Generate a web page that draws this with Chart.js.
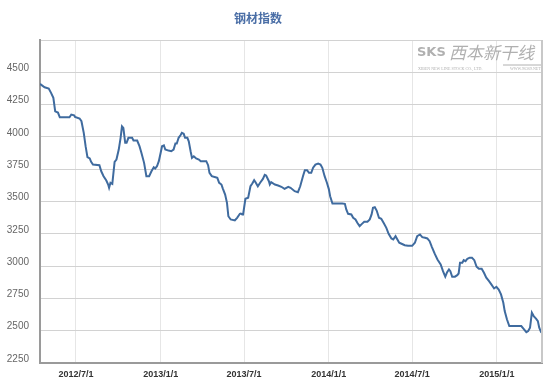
<!DOCTYPE html>
<html>
<head>
<meta charset="utf-8">
<script src="https://cdn.jsdelivr.net/npm/chart.js@4.4.1/dist/chart.umd.min.js"></script>
<style>
  html, body { margin: 0; padding: 0; background: #ffffff; }
  #wrap { position: relative; width: 558px; height: 389px; }
  #title { position: absolute; left: 0; width: 516px; top: 9px; text-align: center;
           font: bold 12px "Noto Sans CJK SC", sans-serif; color: #4a6ea6; }
  canvas { position: absolute; left: 0; top: 0; }
</style>
</head>
<body>
<div id="wrap">
  <canvas id="c" width="558" height="389"></canvas>
  <div id="title">钢材指数</div>
</div>
<script>
// x values: days since 2012/7/1
const dayOffsets = [
  -78,-68,-59,-54,-49,-45,-39,-35,-14,-10,-4,-2,8,12,17,21,25,30,33,37,
  51,55,60,66,70,72,75,79,84,88,93,97,100,103,107,110,114,122,125,133,
  138,142,148,153,159,164,169,172,176,180,184,187,191,194,201,207,212,216,219,223,
  227,230,234,237,242,245,249,252,256,261,267,271,276,283,287,290,295,303,307,311,
  316,319,324,328,331,336,345,350,356,358,361,363,368,374,379,383,387,390,395,400,
  406,410,413,419,421,424,432,439,446,453,461,466,475,482,487,493,497,502,506,511,
  515,520,526,531,535,540,545,549,552,557,578,584,587,591,598,602,607,611,616,621,
  626,633,638,642,645,649,653,658,663,668,674,679,685,689,694,698,702,707,714,721,
  730,736,741,747,752,758,763,768,773,779,785,792,797,802,806,810,813,817,823,828,
  831,834,839,842,846,850,855,860,865,870,875,881,886,891,897,902,908,913,918,923,
  928,931,936,941,957,967,973,978,982,986,990,994,999,1003,1006,1010,1012
];
const steelIndex = [
  4410,4384,4374,4341,4302,4198,4188,4152,4152,4173,4167,4155,4142,4121,4031,3928,3843,3833,3807,3786,
  3781,3734,3696,3662,3631,3606,3645,3637,3807,3825,3902,3993,4082,4070,3954,3954,3993,3993,3972,3972,
  3928,3880,3799,3696,3696,3734,3765,3755,3773,3812,3877,3928,3935,3902,3894,3889,3902,3949,3949,3993,
  4013,4031,4024,3993,3993,3966,3889,3838,3850,3833,3825,3812,3812,3812,3781,3722,3696,3688,3683,3645,
  3631,3600,3554,3490,3386,3361,3353,3374,3405,3407,3400,3400,3521,3529,3618,3639,3665,3649,3618,3645,
  3675,3706,3701,3657,3631,3649,3631,3624,3614,3598,3614,3606,3580,3572,3618,3696,3742,3742,3722,3722,
  3761,3786,3794,3786,3761,3696,3645,3598,3541,3484,3484,3482,3438,3405,3400,3374,3361,3335,3309,3327,
  3343,3343,3361,3400,3451,3456,3430,3374,3366,3335,3296,3250,3214,3206,3232,3206,3181,3173,3162,3157,
  3157,3181,3232,3245,3224,3219,3214,3193,3147,3096,3051,3013,2961,2918,2953,2974,2961,2918,2918,2930,
  2943,3026,3026,3046,3038,3057,3065,3065,3046,2995,2979,2979,2948,2910,2883,2858,2827,2840,2819,2781,
  2716,2652,2587,2536,2536,2536,2510,2489,2497,2523,2639,2613,2593,2574,2523,2489,2484
];
const xTickDays   = [0, 184, 365, 549, 730, 914];
const xTickLabels = ['2012/7/1', '2013/1/1', '2013/7/1', '2014/1/1', '2014/7/1', '2015/1/1'];
const yMin = 2250, yMax = 4750, yStep = 250;

const points = dayOffsets.map((d, i) => ({ x: d, y: steelIndex[i] }));

const decor = {
  id: 'decor',
  beforeDatasetsDraw(chart) {
    const ctx = chart.ctx, a = chart.chartArea;
    ctx.save();
    // watermark
    ctx.fillStyle = 'rgba(150,150,150,0.75)';
    ctx.font = 'bold 13px "DejaVu Sans", sans-serif';
    ctx.textBaseline = 'middle';
    ctx.textAlign = 'left';
    ctx.fillText('SKS', 417, 53);
    ctx.font = 'italic 17px "Noto Sans CJK SC", sans-serif';
    ctx.fillText('西本新干线', 449, 53);
    ctx.font = '4px "Liberation Serif", serif';
    ctx.fillText('XIBEN NEW LINE STOCK CO., LTD.', 418, 69);
    ctx.fillText('WWW.96369.NET', 510, 69);
    ctx.strokeStyle = 'rgba(150,150,150,0.75)';
    ctx.lineWidth = 1;
    ctx.beginPath(); ctx.moveTo(503, 65); ctx.lineTo(541, 65); ctx.stroke();
    ctx.restore();
  },
  afterDraw(chart) {
    const ctx = chart.ctx, a = chart.chartArea;
    ctx.save();
    ctx.strokeStyle = '#c8c8c8';
    ctx.lineWidth = 2;
    ctx.beginPath();
    ctx.moveTo(a.right, a.top); ctx.lineTo(a.right, a.bottom);
    ctx.stroke();
    ctx.restore();
  }
};

new Chart(document.getElementById('c'), {
  type: 'line',
  data: {
    datasets: [{
      data: points,
      borderColor: '#3f6b9f',
      borderWidth: 2,
      pointRadius: 0,
      tension: 0,
      fill: false
    }]
  },
  options: {
    responsive: false,
    animation: false,
    layout: { padding: { left: 0, top: 40, right: 16, bottom: 0 } },
    plugins: { legend: { display: false }, title: { display: false }, tooltip: { enabled: false } },
    scales: {
      x: {
        type: 'linear',
        min: -78, max: 1012,
        afterFit(s) { s.height = 26; },
        afterBuildTicks(s) { s.ticks = xTickDays.map(v => ({ value: v })); },
        ticks: {
          autoSkip: false, maxRotation: 0, padding: 6,
          color: '#333333',
          font: { family: '"Liberation Sans", Arial, sans-serif', size: 9, weight: 'bold' },
          callback: (v) => { const i = xTickDays.indexOf(v); return i >= 0 ? xTickLabels[i] : ''; }
        },
        grid: { color: '#e6e6e6', lineWidth: 1, drawTicks: false },
        border: { color: '#9a9a9a', width: 2 }
      },
      y: {
        min: yMin, max: yMax,
        afterFit(s) { s.width = 40; },
        ticks: {
          stepSize: yStep, padding: 11, labelOffset: -4,
          color: '#666666',
          font: { family: '"Liberation Sans", Arial, sans-serif', size: 10 },
          callback: (v) => v === yMax ? '' : String(v)
        },
        grid: { color: '#d2d2d2', lineWidth: 1, drawTicks: false },
        border: { color: '#9a9a9a', width: 2 }
      }
    }
  },
  plugins: [decor]
});
</script>
</body>
</html>
